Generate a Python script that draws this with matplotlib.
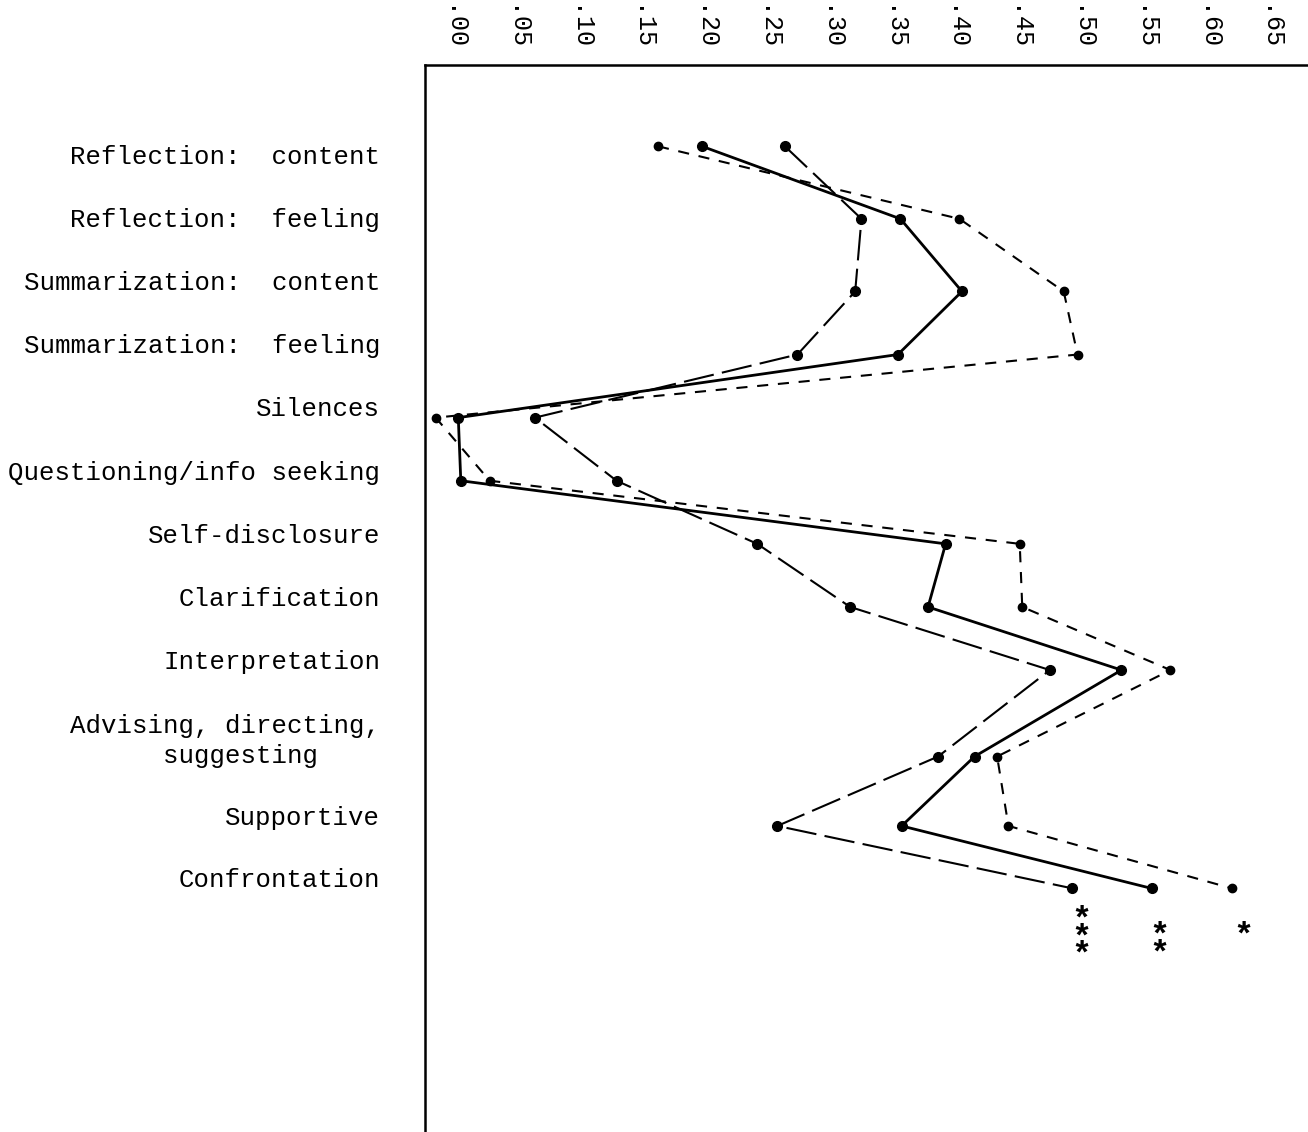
import matplotlib
matplotlib.use("Agg")
import matplotlib.pyplot as plt
import numpy as np

# Kategori respon konselor (urutan dari atas ke bawah)
categories = [
    "Reflection:  content",
    "Reflection:  feeling",
    "Summarization:  content",
    "Summarization:  feeling",
    "Silences",
    "Questioning/info seeking",
    "Self-disclosure",
    "Clarification",
    "Interpretation",
    "Advising, directing,\nsuggesting    ",
    "Supportive",
    "Confrontation",
]

# Nilai proporsi tiap seri
solid_vals = [0.199, 0.357, 0.406, 0.355, 0.005, 0.007, 0.393, 0.379, 0.533, 0.416, 0.358, 0.557]
dashed_vals = [0.164, 0.404, 0.487, 0.498, -0.013, 0.030, 0.452, 0.454, 0.572, 0.434, 0.443, 0.621]
longdash_vals = [0.265, 0.326, 0.321, 0.275, 0.066, 0.131, 0.243, 0.317, 0.476, 0.387, 0.259, 0.494]

# Tanda signifikansi di ujung tiap seri
solid_mark = "**"
dashed_mark = "*"
longdash_mark = "***"

tick_vals = np.arange(0, 0.651, 0.05)
tick_labels = ["." + f"{v:.2f}".split(".")[1] for v in tick_vals]

plt.rcParams["font.family"] = ["Liberation Mono", "DejaVu Sans Mono"]
plt.rcParams["lines.scale_dashes"] = False

fig = plt.figure(figsize=(13.08, 11.32), dpi=100)
ax = fig.add_axes([425 / 1308, 0.0, 1 - 425 / 1308, 1 - 65 / 1132])

# posisi baris: label dua baris memakan tempat lebih
row_y = np.array([0, 1, 2, 3, 4, 5, 6, 7, 8, 9.25, 10.47, 11.46])
pt_y = row_y + 0.13
pt_y[0] -= 0.3   # titik baris pertama digambar sedikit lebih tinggi
pt_y[1] -= 0.15
pt_y[9] = 9.5    # titik "Advising" sejajar baris kedua labelnya

ax.plot(solid_vals, pt_y, color="black", lw=2.0, marker="o", ms=7)
ax.plot(dashed_vals, pt_y, color="black", lw=1.5, dashes=(8, 7), marker="o", ms=6)
ax.plot(longdash_vals, pt_y, color="black", lw=1.5, dashes=(22, 6), marker="o", ms=7)

# bintang di bawah titik terakhir (satu teks per seri, ditumpuk vertikal)
for vals, mark, dx, dy in [(longdash_vals, longdash_mark, 9, 16),
                           (solid_vals, solid_mark, 8, 32),
                           (dashed_vals, dashed_mark, 11, 32)]:
    ax.annotate("\n".join(mark), xy=(vals[-1], pt_y[-1]), xytext=(dx, -dy),
                textcoords="offset pixels", ha="center", va="top",
                fontsize=24, fontweight="bold", linespacing=0.45)

# label kategori di kiri sumbu
for cat, y in zip(categories, row_y):
    lines = cat.split("\n")
    if len(lines) == 1:
        ax.text(-45 / 883, y, cat, transform=ax.get_yaxis_transform(),
                ha="right", va="center", fontsize=18.5)
    else:
        ax.text(-45 / 883, y - 0.24, lines[0], transform=ax.get_yaxis_transform(),
                ha="right", va="center", fontsize=18.5)
        ax.text(-45 / 883, y + 0.24, lines[1], transform=ax.get_yaxis_transform(),
                ha="right", va="center", fontsize=18.5)

ax.set_xlim(-0.0215, 0.6815)
ax.set_ylim(15.45, -1.458)
ax.xaxis.tick_top()
ax.set_xticks(tick_vals)
ax.set_xticklabels(tick_labels, rotation=-90, fontsize=18)
ax.tick_params(axis="x", length=0, pad=10)
ax.set_yticks([])

for s in ["right", "bottom"]:
    ax.spines[s].set_visible(False)
for s in ["left", "top"]:
    ax.spines[s].set_linewidth(1.8)

fig.savefig("out.png", dpi=100)
